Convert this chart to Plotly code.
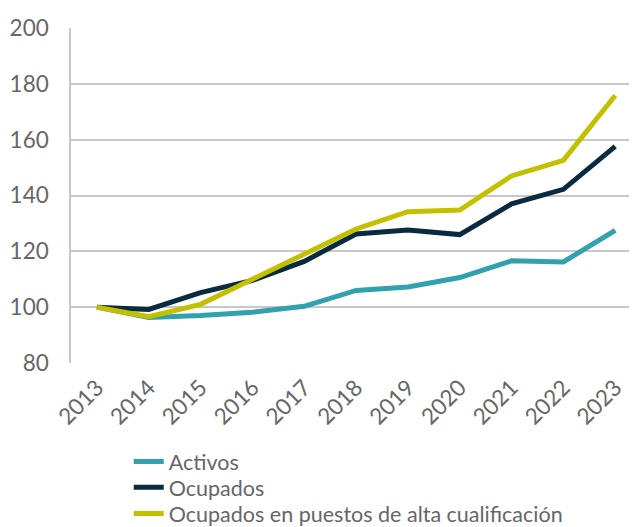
import plotly.graph_objects as go

years = ["2013", "2014", "2015", "2016", "2017", "2018", "2019", "2020", "2021", "2022", "2023"]
activos = [100, 96.3, 97.0, 98.2, 100.3, 106.0, 107.2, 110.6, 116.6, 116.2, 127.5]
ocupados = [100, 99.2, 105.2, 109.6, 116.4, 126.2, 127.6, 126.0, 137.0, 142.2, 157.6]
alta_cualif = [100, 96.6, 101.0, 110.0, 119.4, 128.0, 134.2, 134.8, 147.0, 152.6, 175.8]

names = ["Activos", "Ocupados", "Ocupados en puestos de alta cualificación"]
colors = ["#31A1AD", "#082B3F", "#C3C000"]
series = [activos, ocupados, alta_cualif]
legend_ids = ["legend", "legend2", "legend3"]
legend_y = [-0.233, -0.310, -0.388]

font = dict(family="Lato, sans-serif", size=22.5, color="#666666")
legend_font = dict(family="Lato, sans-serif", size=21.5, color="#666666")

fig = go.Figure()
for name, vals, col, lid in zip(names, series, colors, legend_ids):
    fig.add_trace(go.Scatter(x=list(range(len(years))), y=vals, name=name, mode="lines",
                             line=dict(color=col, width=5), legend=lid))

legend_common = dict(x=0.102, xanchor="left", yanchor="top", orientation="v",
                     font=legend_font, itemwidth=30, bgcolor="rgba(0,0,0,0)")
fig.update_layout(
    width=629, height=519,
    margin=dict(l=63, r=0, t=20, b=164, autoexpand=False),
    paper_bgcolor="white", plot_bgcolor="white",
    font=font,
    showlegend=True,
    legend=dict(y=legend_y[0], **legend_common),
    legend2=dict(y=legend_y[1], **legend_common),
    legend3=dict(y=legend_y[2], **legend_common),
)
fig.update_xaxes(
    tickmode="array", tickvals=list(range(len(years))), ticktext=years,
    range=[-0.5, 10.42], tickangle=-45, showgrid=False, zeroline=False,
    showline=False, ticks="", tickfont=font, automargin=False, ticklabelstandoff=6,
)
fig.update_yaxes(
    range=[80, 200], dtick=20, showgrid=True, gridcolor="#C8C8C8", gridwidth=1.5,
    zeroline=False, showline=True, linecolor="#C8C8C8", linewidth=1.5,
    ticks="", tickfont=font, ticklabelstandoff=16, automargin=False,
)
fig.write_html("out.html")
